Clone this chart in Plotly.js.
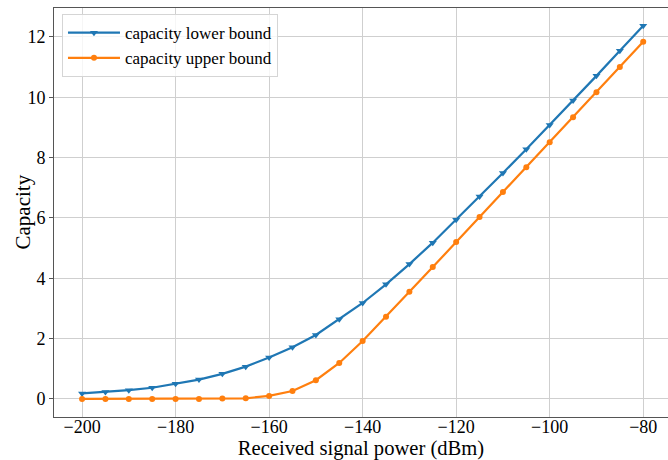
<!DOCTYPE html>
<html>
<head>
<meta charset="utf-8">
<script src="https://cdn.plot.ly/plotly-3.0.1.min.js"></script>
<style>
  html, body { margin: 0; padding: 0; background: #fff; }
  #chart { width: 668px; height: 460px; }
</style>
</head>
<body>
<div id="chart"></div>
<script>
// Received signal power (dBm)
const power = [-200, -195, -190, -185, -180, -175, -170, -165, -160, -155, -150, -145, -140,
               -135, -130, -125, -120, -115, -110, -105, -100, -95, -90, -85, -80];

// Capacity bounds
const lowerBound = [0.18, 0.23, 0.29, 0.37, 0.50, 0.64, 0.83, 1.07, 1.37, 1.71, 2.12, 2.64, 3.18,
                    3.80, 4.47, 5.18, 5.94, 6.71, 7.49, 8.28, 9.08, 9.89, 10.71, 11.54, 12.37];
const upperBound = [0.00, 0.00, 0.00, 0.00, 0.00, 0.00, 0.01, 0.02, 0.10, 0.26, 0.62, 1.19, 1.92,
                    2.72, 3.55, 4.37, 5.20, 6.03, 6.86, 7.68, 8.51, 9.34, 10.17, 11.00, 11.84];

// Axis ticks
const xTicks = [-200, -180, -160, -140, -120, -100, -80];
const yTicks = [0, 2, 4, 6, 8, 10, 12];

const serif = "'Liberation Serif', 'Times New Roman', serif";
const xRange = [-206, -74.7];

const traces = [
  {
    x: power, y: lowerBound, name: 'capacity lower bound',
    mode: 'lines+markers', type: 'scatter',
    line: { color: '#1f77b4', width: 2.2 },
    marker: { symbol: 'triangle-down', size: 7, color: '#1f77b4' }
  },
  {
    x: power, y: upperBound, name: 'capacity upper bound',
    mode: 'lines+markers', type: 'scatter',
    line: { color: '#ff7f0e', width: 2.2 },
    marker: { symbol: 'circle', size: 6, color: '#ff7f0e' }
  }
];

const layout = {
  width: 668, height: 460,
  margin: { l: 54, r: 0, t: 8, b: 43 },
  paper_bgcolor: '#fff', plot_bgcolor: '#fff',
  font: { family: serif, size: 18, color: '#000' },
  showlegend: true,
  legend: {
    x: 0.013, y: 0.985, xanchor: 'left', yanchor: 'top',
    bgcolor: 'rgba(255,255,255,0.8)', bordercolor: '#d5d5d5', borderwidth: 1,
    font: { family: serif, size: 17, color: '#000' },
    tracegroupgap: 0, itemwidth: 52
  },
  // labelled bottom axis (labels sit tight under the spine)
  xaxis: {
    range: xRange,
    tickvals: xTicks,
    showgrid: true, gridcolor: '#cfcfcf', gridwidth: 1,
    zeroline: false,
    showline: true, linecolor: '#555', linewidth: 1, mirror: true,
    ticks: '',
    ticklabelstandoff: -7,
    tickfont: { family: serif, size: 18, color: '#000' },
    title: { text: 'Received signal power (dBm)', font: { family: serif, size: 20.6, color: '#000' }, standoff: 8 }
  },
  // companion axis that only carries the outward tick marks
  xaxis2: {
    overlaying: 'x', matches: 'x', anchor: 'y', side: 'bottom',
    range: xRange,
    tickvals: xTicks,
    showticklabels: false, showgrid: false, zeroline: false, showline: false,
    ticks: 'outside', ticklen: 4, tickcolor: '#555'
  },
  yaxis: {
    range: [-0.6, 12.96],
    tickvals: yTicks,
    showgrid: true, gridcolor: '#cfcfcf', gridwidth: 1,
    zeroline: false,
    showline: true, linecolor: '#555', linewidth: 1,
    ticks: 'outside', ticklen: 4, tickcolor: '#555',
    tickfont: { family: serif, size: 18, color: '#000' }
  },
  annotations: [{
    text: 'Capacity', textangle: -90,
    xref: 'paper', yref: 'paper', x: 0, y: 0.5,
    xanchor: 'center', yanchor: 'middle', xshift: -32,
    showarrow: false,
    font: { family: serif, size: 21, color: '#000' }
  }]
};

Plotly.newPlot('chart', traces, layout, { displayModeBar: false, staticPlot: true });
</script>
</body>
</html>
